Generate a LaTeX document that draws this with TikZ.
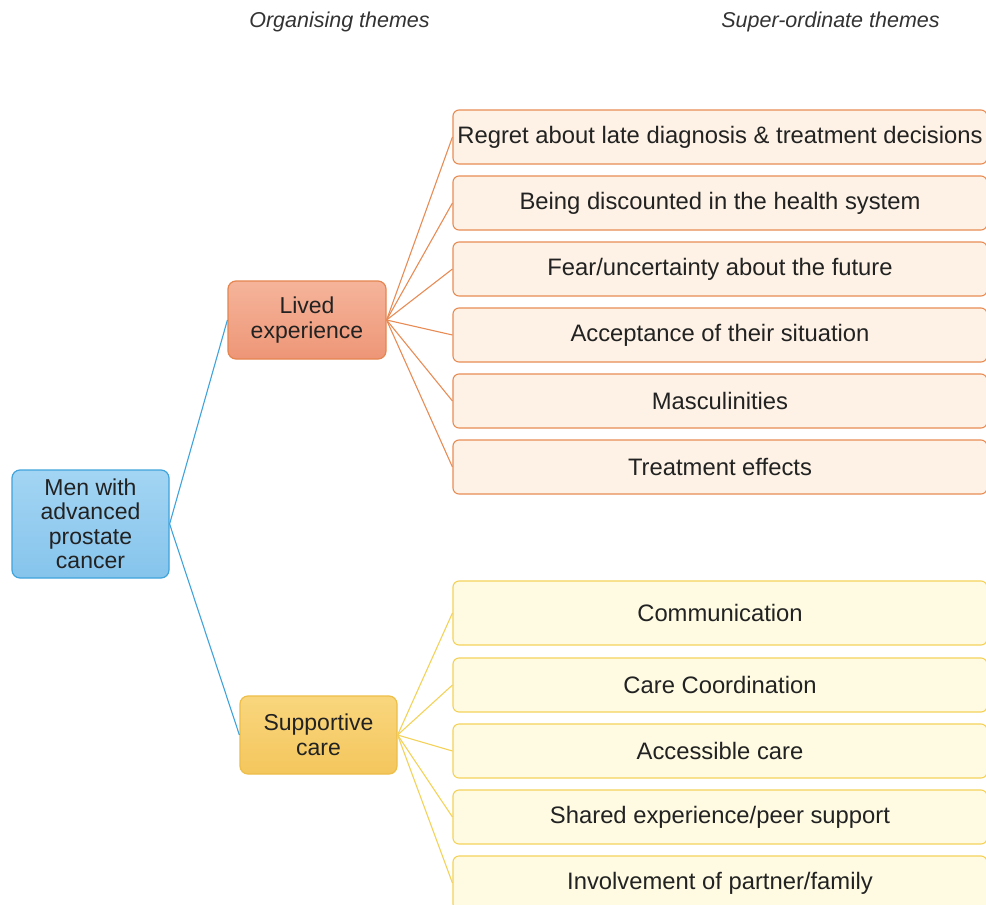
\documentclass[tikz,border=0pt]{standalone}
\usepackage{fontspec}
\setmainfont{Liberation Sans}
\definecolor{txt}{HTML}{222222}
\definecolor{hdr}{HTML}{333333}
\definecolor{blueB}{HTML}{3FA3DC}
\definecolor{blueT}{HTML}{A3D5F3}
\definecolor{blueBt}{HTML}{86C4EC}
\definecolor{orB}{HTML}{E5854F}
\definecolor{orT}{HTML}{F5B49A}
\definecolor{orBt}{HTML}{EE9677}
\definecolor{yeB}{HTML}{EDBE48}
\definecolor{yeT}{HTML}{F9D67D}
\definecolor{yeBt}{HTML}{F4C65D}
\definecolor{orFill}{HTML}{FDF2E5}
\definecolor{orLine}{HTML}{E88C55}
\definecolor{yeFill}{HTML}{FEFBE2}
\definecolor{yeLine}{HTML}{F4D25A}
\begin{document}
\begin{tikzpicture}[x=1pt,y=-1pt,
  hbox/.style={rounded corners=8pt, line width=1.2pt, align=center, inner sep=0pt,
    font=\fontsize{23}{24.5}\selectfont, text=txt},
  rootbox/.style={hbox, draw=blueB, top color=blueT, bottom color=blueBt,
    minimum width=157pt, minimum height=108pt},
  livedbox/.style={hbox, draw=orB, top color=orT, bottom color=orBt,
    minimum width=158pt, minimum height=78pt},
  suppbox/.style={hbox, draw=yeB, top color=yeT, bottom color=yeBt,
    minimum width=157pt, minimum height=78pt},
  theme/.style={rounded corners=6pt, line width=1.1pt, inner sep=0pt,
    minimum width=534pt, minimum height=54pt, text=txt,
    font=\fontsize{23.8}{26}\selectfont},
  orbox/.style={theme, draw=orLine, fill=orFill},
  yebox/.style={theme, draw=yeLine, fill=yeFill},
  header/.style={font=\fontsize{21.5}{24}\selectfont\itshape, text=hdr},
  blueline/.style={draw=blueB, line width=1.1pt},
  orline/.style={draw=orLine, line width=1.1pt},
  yeline/.style={draw=yeLine, line width=1.1pt}]
\useasboundingbox[fill=white] (0,0) rectangle (986,905);
\begin{scope}
\clip (0,0) rectangle (986,905);
\node[header] (h1) at (339.5,22) {Organising themes};
\node[header] (h2) at (830.5,22) {Super-ordinate themes};

\node[rootbox] (root) at (90.5,524) {Men with\\advanced\\prostate\\cancer};
\node[livedbox] (lived) at (307,320) {Lived\\experience};
\node[suppbox] (supp) at (318.5,735) {Supportive\\care};

\node[orbox] (o1) at (720,137) {Regret about late diagnosis \& treatment decisions};
\node[orbox] (o2) at (720,203) {Being discounted in the health system};
\node[orbox] (o3) at (720,269) {Fear/uncertainty about the future};
\node[orbox] (o4) at (720,335) {Acceptance of their situation};
\node[orbox] (o5) at (720,401) {Masculinities};
\node[orbox] (o6) at (720,467) {Treatment effects};

\node[yebox, minimum height=64pt] (y1) at (720,613) {Communication};
\node[yebox] (y2) at (720,685) {Care Coordination};
\node[yebox] (y3) at (720,751) {Accessible care};
\node[yebox] (y4) at (720,817) {Shared experience/peer support};
\node[yebox] (y5) at (720,883) {Involvement of partner/family};

\draw[blueline] (root.east) -- (lived.west);
\draw[blueline] (root.east) -- (supp.west);
\foreach \n in {o1,o2,o3,o4,o5,o6} \draw[orline] (lived.east) -- (\n.west);
\foreach \n in {y1,y2,y3,y4,y5} \draw[yeline] (supp.east) -- (\n.west);
\end{scope}
\end{tikzpicture}
\end{document}
